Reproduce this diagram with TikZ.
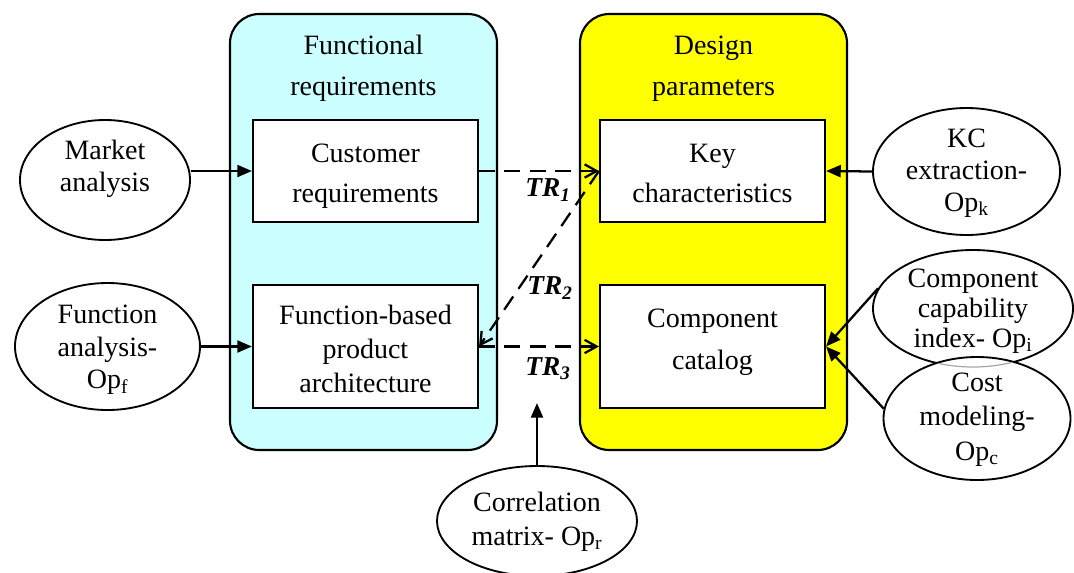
\documentclass[tikz,border=0pt]{standalone}
\usepackage{fontspec}
\setmainfont{Liberation Serif}
\usetikzlibrary{arrows.meta,shapes.geometric}
\definecolor{paleCyan}{HTML}{CCFFFF}
\definecolor{brightYellow}{HTML}{FFFF00}
\newdimen\px \px=0.75pt
\tikzset{
  panel/.style={draw, line width=1.6pt, rounded corners=22pt},
  stepbox/.style={draw, fill=white, line width=1.6pt, inner sep=0pt},
  oval/.style={draw, fill=white, ellipse, line width=1.4pt, inner sep=0pt},
  txt/.style={align=center, inner sep=0pt, font=\fontsize{21}{#1}\selectfont},
  txt/.default=24,
  heading/.style={align=center, font=\fontsize{21}{30.5}\selectfont},
  solidarrow/.style={line width=1.7pt, -{Triangle[length=11pt,width=9pt]}},
  trarrow/.style={line width=1.7pt, dash pattern=on 12pt off 7pt,
    -{Straight Barb[length=9pt,width=10pt,line width=1.7pt]}},
  trlabel/.style={font=\fontsize{20.5}{24}\bfseries\itshape}
}
\begin{document}
\begin{tikzpicture}[x=0.75pt,y=-0.75pt]
\useasboundingbox (0,0) rectangle (1074,572);

% two requirement/parameter panels
\draw[panel, fill=paleCyan] (230,14) rectangle (497,450);
\draw[panel, fill=brightYellow] (580,14) rectangle (847,450);
\node[heading] (fr) at (363.5,68.5) {Functional\\requirements};
\node[heading] (dp) at (713.5,68.5) {Design\\parameters};

% inner boxes
\node[stepbox, minimum width={225*\px}, minimum height={102*\px},
  label={[txt=30, yshift=-4.1pt]center:{Customer\\requirements}}] (cust) at (365.5,171) {};
\node[stepbox, minimum width={225*\px}, minimum height={123*\px},
  label={[txt=25.5, yshift=-1.5pt]center:{Function-based\\product\\architecture}}] (arch) at (365.5,346.5) {};
\node[stepbox, minimum width={225*\px}, minimum height={102*\px},
  label={[txt=30, yshift=-1.5pt]center:{Key\\characteristics}}] (kc) at (712.5,171) {};
\node[stepbox, minimum width={225*\px}, minimum height={123*\px},
  label={[txt=31.5, yshift=3.4pt]center:{Component\\catalog}}] (cat) at (712.5,346.5) {};

% operator ellipses
\node[oval, minimum width={170*\px}, minimum height={120*\px},
  label={[txt=24, yshift=8.6pt]center:{Market\\analysis}}] (market) at (105,180) {};
\node[oval, minimum width={185*\px}, minimum height={127*\px},
  label={[txt=24.5, yshift=-2.6pt]center:{Function\\analysis-\\Op\textsubscript{f}}}] (funca) at (107.5,346.5) {};
\node[oval, minimum width={187*\px}, minimum height={127*\px},
  label={[txt=24, yshift=-1.5pt]center:{KC\\extraction-\\Op\textsubscript{k}}}] (kcx) at (966.5,171.5) {};
\node[oval, minimum width={200*\px}, minimum height={117*\px},
  label={[txt=22.5, yshift=-2.2pt]center:{Component\\capability\\index- Op\textsubscript{i}}}] (cap) at (973,308.5) {};
\node[oval, minimum width={187*\px}, minimum height={123*\px},
  label={[txt=26, yshift=-0.75pt]center:{Cost\\modeling-\\Op\textsubscript{c}}}] (cost) at (977,418.5) {};
\node[oval, minimum width={200*\px}, minimum height={110*\px},
  label={[txt=25.5, yshift=-0.75pt]center:{Correlation\\matrix- Op\textsubscript{r}}}] (corr) at (537,521) {};

% faint lower rim of the capability ellipse showing through
\begin{scope}
  \clip (977,418.5) ellipse [x radius=92, y radius=60.5];
  \draw[gray!70, line width=0.9pt] (973,308.5) ellipse [x radius=100, y radius=58.5];
\end{scope}

% operator inputs
\draw[solidarrow] (market.east |- cust.west) -- (cust.west);
\draw[solidarrow] (funca.east) -- (arch.west);
\draw[solidarrow] (kcx.west) -- (kc.east);
\draw[solidarrow] (cap.168) -- (cat.east);
\draw[solidarrow] (cost.174) -- (cat.east);
\coordinate (trmid) at (537,403);
\draw[solidarrow] (corr.north) -- (trmid);

% transformations
\draw[trarrow] (cust.east) -- (kc.west);
\draw[trarrow] (kc.west) -- (arch.east);
\draw[trarrow] (arch.east) -- (cat.west);
\node[trlabel] (tr1) at (548,190) {TR\textsubscript{1}};
\node[trlabel] (tr2) at (550,288) {TR\textsubscript{2}};
\node[trlabel] (tr3) at (548,369) {TR\textsubscript{3}};
\end{tikzpicture}
\end{document}
